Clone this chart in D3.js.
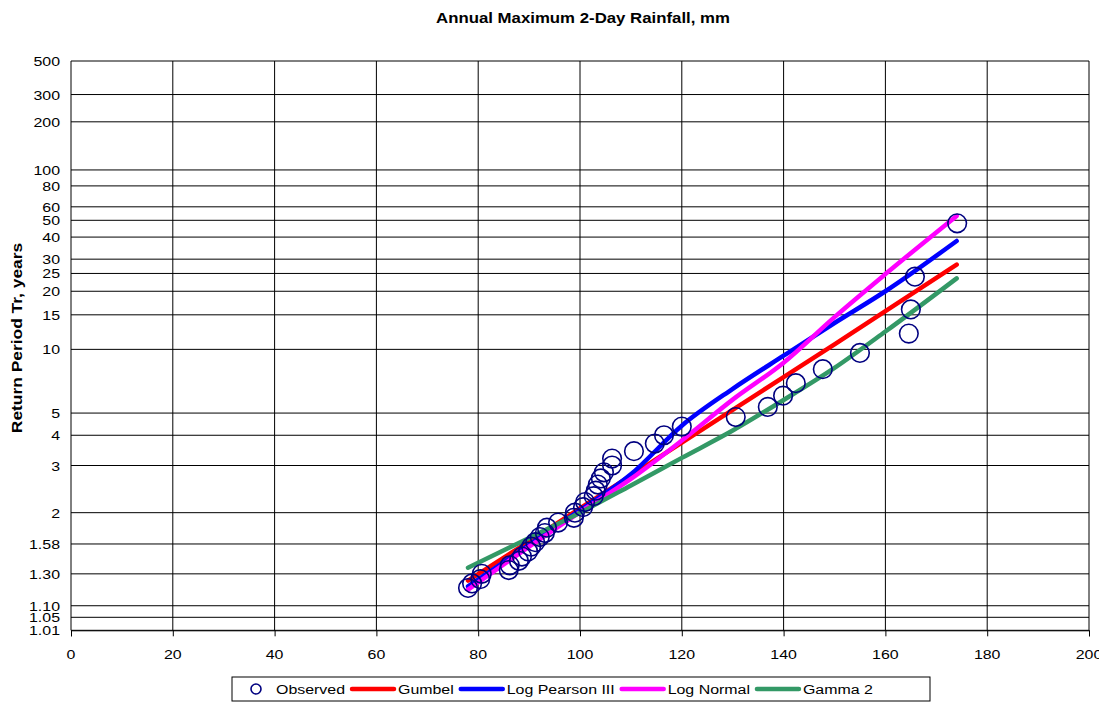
<!DOCTYPE html>
<html>
<head>
<meta charset="utf-8">
<script src="https://cdn.jsdelivr.net/npm/d3@7"></script>
<style>
  html, body { margin: 0; padding: 0; background: #fff; }
  svg { display: block; font-family: "Liberation Sans", Arial, sans-serif; }
</style>
</head>
<body>
<svg id="chart" width="1099" height="704"></svg>
<script>
// ---------------- data ----------------
const chartTitle = "Annual Maximum 2-Day Rainfall, mm";
const yTitle = "Return Period Tr, years";

const xTicks = [0, 20, 40, 60, 80, 100, 120, 140, 160, 180, 200];
const yTickValues = [1.01, 1.05, 1.10, 1.30, 1.58, 2, 3, 4, 5, 10, 15, 20, 25, 30, 40, 50, 60, 80, 100, 200, 300, 500];
const yTickLabels = ["1.01", "1.05", "1.10", "1.30", "1.58", "2", "3", "4", "5", "10", "15", "20", "25", "30", "40", "50", "60", "80", "100", "200", "300", "500"];

// observed annual maxima (mm) and their return periods (years)
const obsRain = [174.1, 165.8, 165.0, 164.6, 155.0, 147.7, 142.4, 139.9, 136.9, 130.6,
                 120.0, 116.5, 114.7, 110.6, 106.3, 106.3, 104.7, 104.1, 103.5, 103.1,
                 102.7, 101.0, 100.6, 99.0, 98.8, 95.7, 93.5, 93.1, 92.1, 91.2,
                 90.4, 89.8, 88.6, 88.0, 86.2, 86.0, 80.7, 80.4, 78.8, 78.0];
const obsT = [48, 24, 16, 12, 9.6, 8, 6.86, 6, 5.33, 4.8,
              4.36, 4, 3.69, 3.43, 3.2, 3, 2.82, 2.67, 2.53, 2.4,
              2.29, 2.18, 2.09, 2, 1.92, 1.85, 1.78, 1.71, 1.66, 1.6,
              1.55, 1.5, 1.45, 1.41, 1.37, 1.33, 1.30, 1.26, 1.23, 1.2];

// fitted distributions: rainfall (mm) vs return period (years)
const fitRain   = [78, 90, 100, 110, 120, 130, 140, 150, 160, 174];
const gumbelT   = [1.25, 1.61, 2.07, 2.74, 3.72, 5.17, 7.33, 10.6, 15.7, 28.0];
const lp3T      = [1.21, 1.57, 2.04, 2.77, 4.40, 6.45, 9.30, 13.6, 20.0, 38.0];
const lognormT  = [1.19, 1.55, 2.01, 2.66, 3.80, 5.75, 8.60, 14.6, 24.8, 53.0];
const gamma2T   = [1.35, 1.65, 2.00, 2.51, 3.22, 4.19, 5.73, 8.11, 12.3, 23.5];

const seriesNames = ["Gumbel", "Log Pearson III", "Log Normal", "Gamma 2"];
const seriesColors = ["#FF0000", "#0000FF", "#FF00FF", "#339966"];
const seriesT = [gumbelT, lp3T, lognormT, gamma2T];

// ---------------- layout ----------------
const svg = d3.select("#chart");
const plot = { left: 71, right: 1089, top: 61, bottom: 630.3 };
const STRETCH = 1.18;

const x = d3.scaleLinear().domain([0, 200]).range([plot.left, plot.right]);
// return-period axis: power scale on ln(T)
const yLn = d3.scalePow().exponent(0.7)
  .domain([Math.log(1.01), Math.log(500)])
  .range([plot.bottom, plot.top]);
const y = T => yLn(Math.log(T));

function addText(g, px, py, str, opt) {
  const o = Object.assign({ size: 13.5, weight: "normal", anchor: "start", rotate: 0, stretch: STRETCH }, opt || {});
  return g.append("text")
    .attr("transform", `translate(${px},${py}) rotate(${o.rotate}) scale(${o.stretch},1)`)
    .attr("text-anchor", o.anchor)
    .attr("font-size", o.size)
    .attr("font-weight", o.weight)
    .attr("fill", "#000")
    .text(str);
}

// ---------------- grid ----------------
const grid = svg.append("g");
grid.selectAll("line.h").data(yTickValues).join("line")
  .attr("x1", plot.left).attr("x2", plot.right)
  .attr("y1", d => y(d)).attr("y2", d => y(d))
  .attr("stroke", "#000").attr("stroke-width", 1);
grid.selectAll("line.v").data(xTicks.slice(1)).join("line")
  .attr("x1", d => x(d)).attr("x2", d => x(d))
  .attr("y1", plot.top).attr("y2", plot.bottom)
  .attr("stroke", "#000").attr("stroke-width", 1);

// axes
const xAxis = d3.axisBottom(x).tickValues(xTicks).tickSize(6).tickFormat("");
const xg = svg.append("g").attr("transform", `translate(0,${plot.bottom})`).call(xAxis);
xg.select(".domain").attr("stroke", "#000");
xg.selectAll(".tick line").attr("stroke", "#000");
xTicks.forEach(v => addText(svg, x(v), 659, String(v), { anchor: "middle" }));

svg.append("line")
  .attr("x1", plot.left).attr("x2", plot.left)
  .attr("y1", plot.top).attr("y2", plot.bottom)
  .attr("stroke", "#000").attr("stroke-width", 1);
yTickValues.forEach((v, i) => addText(svg, 60, y(v) + 5, yTickLabels[i], { anchor: "end" }));

// titles
addText(svg, 583, 23, chartTitle, { size: 14, weight: "bold", anchor: "middle", stretch: 1.2 });
addText(svg, 22, 338, yTitle, { size: 14.5, weight: "bold", anchor: "middle", rotate: -90, stretch: 1.2 });

// ---------------- series ----------------
const line = d3.line().x(d => x(d[0])).y(d => y(d[1])).curve(d3.curveMonotoneX);
seriesT.forEach((arr, i) => {
  svg.append("path")
    .datum(fitRain.map((r, j) => [r, arr[j]]))
    .attr("d", line)
    .attr("fill", "none")
    .attr("stroke", seriesColors[i])
    .attr("stroke-width", 4.5)
    .attr("stroke-linecap", "round")
    .attr("stroke-linejoin", "round");
});

svg.append("g").selectAll("circle")
  .data(obsRain.map((r, j) => [r, obsT[j]]))
  .join("circle")
  .attr("cx", d => x(d[0])).attr("cy", d => y(d[1]))
  .attr("r", 9.3)
  .attr("fill", "none")
  .attr("stroke", "#000080")
  .attr("stroke-width", 1.6);

// ---------------- legend ----------------
const lg = svg.append("g");
const box = { x: 232, y: 677, w: 698, h: 24 };
lg.append("rect").attr("x", box.x).attr("y", box.y).attr("width", box.w).attr("height", box.h)
  .attr("fill", "#fff").attr("stroke", "#000").attr("stroke-width", 1);
const ly = box.y + box.h / 2;
lg.append("circle").attr("cx", box.x + 24).attr("cy", ly).attr("r", 5)
  .attr("fill", "none").attr("stroke", "#000080").attr("stroke-width", 1.6);
let t = addText(lg, box.x + 44, ly + 5, "Observed", {});
let cx = box.x + 44 + t.node().getComputedTextLength() * STRETCH + 7;
seriesNames.forEach((name, i) => {
  lg.append("line").attr("x1", cx).attr("x2", cx + 42).attr("y1", ly).attr("y2", ly)
    .attr("stroke", seriesColors[i]).attr("stroke-width", 4.5).attr("stroke-linecap", "round");
  const tt = addText(lg, cx + 46, ly + 5, name, {});
  cx = cx + 46 + tt.node().getComputedTextLength() * STRETCH + 7;
});
</script>
</body>
</html>
